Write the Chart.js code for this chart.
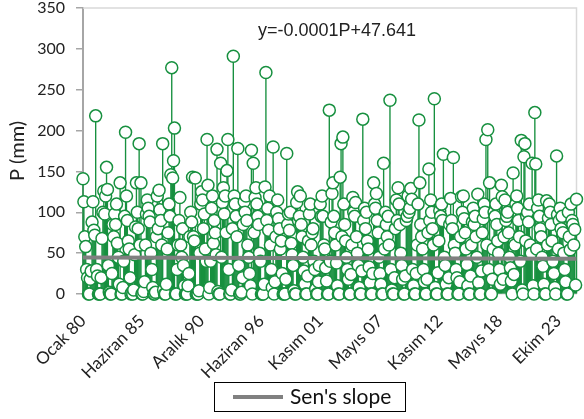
<!DOCTYPE html>
<html>
<head>
<meta charset="utf-8">
<script src="https://cdn.jsdelivr.net/npm/chart.js@4/dist/chart.umd.min.js"></script>
<style>
  body { margin: 0; background: #fff; }
  #wrap { width: 584px; height: 419px; }
</style>
</head>
<body>
<div id="wrap"><canvas id="pChart" width="584" height="419"></canvas></div>
<script>
// Monthly precipitation series, January 1980 onward
const startYear = 1980;
const monthNames = ['Ocak', 'Şubat', 'Mart', 'Nisan', 'Mayıs', 'Haziran',
  'Temmuz', 'Ağustos', 'Eylül', 'Ekim', 'Kasım', 'Aralık'];

const precip = [
  141, 113, 70, 58, 30, 20, 0, 0, 18, 28, 88, 113,     // 1980
  78, 72, 218, 30, 22, 0, 0, 0, 20, 68, 100, 126,      // 1981
  98, 120, 155, 128, 35, 2, 0, 0, 25, 85, 70, 98,      // 1982
  85, 110, 62, 45, 12, 136, 0, 0, 8, 40, 95, 198,      // 1983
  120, 90, 65, 55, 20, 0, 2, 0, 5, 48, 82, 136,        // 1984
  100, 80, 184, 60, 136, 0, 0, 3, 15, 60, 98, 115,     // 1985
  105, 95, 88, 50, 30, 8, 0, 0, 2, 70, 120, 80,        // 1986
  127, 103, 90, 60, 184, 5, 0, 0, 12, 55, 75, 110,     // 1987
  95, 146, 277, 142, 163, 203, 0, 0, 30, 60, 90, 118,  // 1988
  60, 45, 80, 35, 10, 0, 0, 0, 10, 25, 70, 100,        // 1989
  88, 143, 70, 65, 142, 0, 0, 0, 4, 50, 110, 125,      // 1990
  115, 80, 98, 55, 40, 189, 133, 0, 8, 40, 105, 120,   // 1991
  62, 90, 75, 48, 177, 3, 0, 0, 160, 45, 112, 130,     // 1992
  98, 120, 75, 151, 189, 30, 0, 0, 5, 80, 291, 120,    // 1993
  110, 95, 70, 178, 35, 0, 0, 2, 20, 85, 113, 100,     // 1994
  120, 90, 60, 45, 25, 10, 176, 0, 160, 75, 118, 130,  // 1995
  110, 95, 85, 50, 40, 0, 0, 0, 12, 131, 271, 90,      // 1996
  105, 78, 120, 60, 30, 8, 180, 0, 15, 70, 100, 115,   // 1997
  92, 80, 55, 65, 25, 0, 0, 0, 18, 172, 85, 98,        // 1998
  78, 100, 62, 48, 35, 4, 0, 0, 112, 125, 90, 95,      // 1999
  120, 85, 70, 45, 28, 12, 0, 0, 22, 65, 98, 110,      // 2000
  60, 75, 80, 40, 30, 6, 0, 0, 15, 35, 110, 95,        // 2001
  120, 95, 60, 55, 32, 16, 0, 0, 225, 40, 88, 123,     // 2002
  136, 95, 75, 60, 38, 10, 0, 0, 143, 184, 70, 192,    // 2003
  110, 85, 65, 45, 30, 18, 0, 0, 24, 60, 118, 100,     // 2004
  95, 112, 70, 50, 35, 8, 0, 0, 28, 214, 90, 105,      // 2005
  80, 100, 65, 55, 33, 14, 0, 0, 25, 136, 110, 105,    // 2006
  123, 90, 75, 45, 25, 12, 0, 0, 160, 55, 100, 85,     // 2007
  70, 95, 60, 237, 30, 5, 0, 0, 20, 80, 115, 90,       // 2008
  130, 110, 85, 50, 35, 18, 0, 0, 22, 90, 95, 120,     // 2009
  100, 105, 129, 116, 30, 10, 0, 0, 25, 60, 110, 213,  // 2010
  136, 85, 70, 55, 30, 15, 0, 0, 18, 75, 153, 90,      // 2011
  115, 100, 80, 60, 239, 8, 0, 0, 26, 65, 102, 95,     // 2012
  110, 90, 171, 45, 35, 12, 0, 0, 20, 85, 117, 90,     // 2013
  80, 167, 60, 50, 30, 20, 0, 0, 15, 70, 119, 100,     // 2014
  120, 92, 75, 55, 36, 10, 0, 0, 22, 60, 88, 105,      // 2015
  85, 95, 70, 45, 122, 14, 0, 0, 28, 75, 92, 110,      // 2016
  100, 189, 60, 201, 30, 136, 0, 0, 18, 55, 100, 95,   // 2017
  110, 85, 65, 50, 30, 12, 133, 119, 18, 70, 115, 90,  // 2018
  95, 100, 75, 45, 32, 16, 0, 148, 24, 60, 110, 120,   // 2019
  105, 90, 70, 40, 188, 5, 0, 168, 184, 65, 95, 100,   // 2020
  88, 110, 60, 50, 160, 10, 0, 222, 159, 55, 105, 115, // 2021
  95, 80, 70, 45, 34, 12, 0, 0, 114, 60, 93, 110,      // 2022
  100, 85, 65, 40, 25, 8, 0, 169, 97, 55, 90, 105,     // 2023
  80, 95, 75, 50, 30, 15, 0, 0, 100, 70, 54, 110,      // 2024
  90, 85, 60, 79, 11, 116                              // 2025
];

// Axis labels that are actually printed
const tickLabels = ['Ocak 80', 'Haziran 85', 'Aralık 90', 'Haziran 96', 'Kasım 01',
  'Mayıs 07', 'Kasım 12', 'Mayıs 18', 'Ekim 23'];
const yTicks = [0, 50, 100, 150, 200, 250, 300, 350];

// Sen's slope trend: y = a*P + b, P = Excel date serial
const senA = -0.0001;
const senB = 47.641;
const senText = "y=-0.0001P+47.641";

// month labels like "Ocak 80"
const labels = precip.map((_, i) => {
  const y = startYear + Math.floor(i / 12);
  return monthNames[i % 12] + ' ' + String(y % 100).padStart(2, '0');
});

function excelSerial(i) {
  const y = startYear + Math.floor(i / 12);
  const m = i % 12;
  return (Date.UTC(y, m, 1) - Date.UTC(1899, 11, 30)) / 86400000;
}
const lastIdx = precip.length - 1;
const senData = [
  { x: labels[0], y: senA * excelSerial(0) + senB },
  { x: labels[lastIdx], y: senA * excelSerial(lastIdx) + senB }
];

const green = '#17903f';
const font = 'Lato, "Open Sans", sans-serif';

// plot frame, equation text and boxed legend
const decorations = {
  id: 'decorations',
  beforeDatasetsDraw(chart) {
    const { ctx, chartArea: a } = chart;
    ctx.save();
    ctx.strokeStyle = '#d9d9d9';
    ctx.lineWidth = 1.5;
    ctx.beginPath();
    ctx.moveTo(a.left, a.top);
    ctx.lineTo(a.right, a.top);
    ctx.lineTo(a.right, a.bottom);
    ctx.stroke();
    ctx.restore();
  },
  afterDraw(chart) {
    const { ctx } = chart;
    ctx.save();
    ctx.fillStyle = '#222';
    ctx.font = '18px "Liberation Sans", Arial, sans-serif';
    ctx.textBaseline = 'alphabetic';
    ctx.textAlign = 'left';
    ctx.fillText(senText, 258, 36);

    // legend
    ctx.strokeStyle = '#000';
    ctx.lineWidth = 1;
    ctx.strokeRect(214.5, 382.5, 191, 29);
    ctx.strokeStyle = '#808080';
    ctx.lineWidth = 4;
    ctx.beginPath();
    ctx.moveTo(233, 397);
    ctx.lineTo(283, 397);
    ctx.stroke();
    ctx.fillStyle = '#111';
    ctx.font = '21px ' + font;
    ctx.textBaseline = 'middle';
    ctx.fillText("Sen's slope", 290, 397);
    ctx.restore();
  }
};

new Chart(document.getElementById('pChart'), {
  type: 'bar',
  data: {
    labels: labels,
    datasets: [
      {
        type: 'line',
        label: "Sen's slope",
        data: senData,
        borderColor: '#808080',
        borderWidth: 4,
        pointRadius: 0,
        order: 1
      },
      {
        type: 'line',
        label: 'P',
        data: precip,
        showLine: false,
        pointRadius: 6,
        pointBackgroundColor: '#fff',
        pointBorderColor: green,
        pointBorderWidth: 1.5,
        clip: false,
        order: 2
      },
      {
        type: 'bar',
        label: 'P stem',
        data: precip,
        backgroundColor: green,
        barThickness: 0.7,
        clip: false,
        order: 3
      }
    ]
  },
  options: {
    responsive: false,
    animation: false,
    layout: { padding: { top: 8, right: 7, bottom: 0, left: 0 } },
    plugins: {
      legend: { display: false },
      tooltip: { enabled: false }
    },
    scales: {
      x: {
        type: 'category',
        offset: false,
        grid: { display: false, offset: false },
        border: { display: true, color: '#d9d9d9', width: 1.5 },
        ticks: {
          autoSkip: false,
          minRotation: 45,
          maxRotation: 45,
          padding: 9,
          color: '#222',
          font: { family: font, size: 17 },
          callback: (v, i) => tickLabels.includes(labels[i]) ? labels[i] : ''
        },
        afterFit: s => { s.height = 125; s.paddingLeft = 0; s.paddingRight = 0; }
      },
      y: {
        min: 0,
        max: 350,
        afterBuildTicks: s => { s.ticks = yTicks.map(v => ({ value: v })); },
        grid: { drawOnChartArea: false, drawTicks: true, tickLength: 7, color: '#a6a6a6', lineWidth: 1.5 },
        border: { display: true, color: '#a6a6a6', width: 2 },
        ticks: {
          padding: 11,
          color: '#222',
          font: { family: font, size: 16 }
        },
        title: {
          display: true,
          text: 'P (mm)',
          color: '#222',
          font: { family: font, size: 20 },
          padding: { top: 6, bottom: 0 }
        },
        afterFit: s => { s.width = 83; s.paddingTop = 0; s.paddingBottom = 0; }
      }
    }
  },
  plugins: [decorations]
});
</script>
</body>
</html>
